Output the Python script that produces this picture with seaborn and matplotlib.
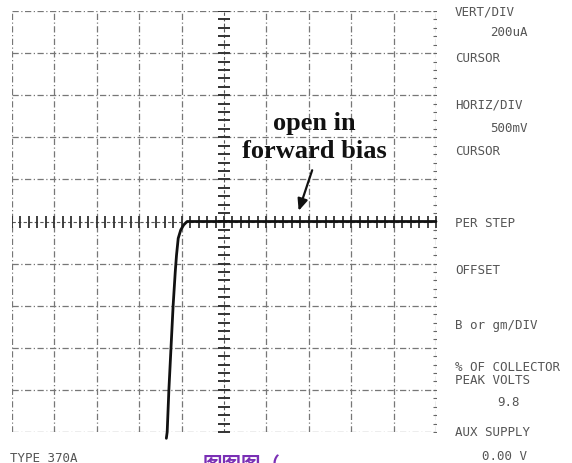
import numpy as np
import pandas as pd
import matplotlib
matplotlib.use("Agg")
import matplotlib.pyplot as plt
import seaborn as sns

# trace, in divisions from the centre
trace_x = [5.0, 2.0, 0.0, -0.5, -0.87, -0.95, -1.02, -1.08, -1.12, -1.15, -1.2, -1.25, -1.3, -1.34, -1.36]
trace_y = [0.0, 0.0, 0.0, 0.0, 0.0, -0.08, -0.2, -0.4, -0.8, -1.2, -2.0, -3.0, -4.0, -5.0, -5.15]

panel_labels = ["VERT/DIV", "CURSOR", "HORIZ/DIV", "CURSOR", "PER STEP", "OFFSET",
                "B or gm/DIV", "% OF COLLECTOR\nPEAK VOLTS", "AUX SUPPLY"]
panel_label_y = [12, 58, 105, 152, 224, 270, 325, 374, 433]
panel_values = ["200uA", "500mV", "9.8", "0.00 V"]
panel_value_x = [490, 490, 497, 482]
panel_value_y = [33, 128, 403, 456]

df = pd.DataFrame({"x": trace_x, "y": trace_y})

sns.set_style("white")
plt.rcParams["font.family"] = ["DejaVu Sans", "Noto Sans CJK SC"]

W, H = 572, 463
fig = plt.figure(figsize=(W / 100, H / 100), dpi=100)
ax = fig.add_axes([12 / W, (H - 432) / H, 424 / W, 421 / H])
ax.set_xlim(-5, 5)
ax.set_ylim(-5, 5)
for s in ax.spines.values():
    s.set_visible(False)
ax.set_xticks([])
ax.set_yticks([])

grid_kw = dict(color="#777777", lw=0.9, ls=(0, (5, 2, 1, 2)), zorder=1)
for v in np.arange(-5, 6):
    if v != 0:
        ax.axvline(v, **grid_kw)
        ax.axhline(v, **grid_kw)

# centre graticule with minor ticks
ax.axhline(0, color="#555555", lw=0.8, ls=(0, (3, 2)), zorder=1)
ax.axvline(0, color="#555555", lw=0.8, ls=(0, (3, 2)), zorder=1)
minor = np.arange(-5, 5.01, 0.2)
ax.plot(minor, np.zeros_like(minor), ls="none", marker="|", ms=8, mew=1.3, color="#333333", zorder=2)
ax.plot(np.zeros_like(minor), minor, ls="none", marker="_", ms=8, mew=1.4, color="#333333", zorder=2)
ax.plot(np.full_like(minor, 5), minor, ls="none", marker="_", ms=4, mew=0.8, color="#666666", zorder=2)

sns.lineplot(data=df, x="x", y="y", sort=False, color="#111111", lw=2.0, ax=ax, zorder=3)
ax.set_xlabel("")
ax.set_ylabel("")
for l in ax.lines[-1:]:
    l.set_clip_on(False)

ax.text(2.12, 2.0, "open in\nforward bias", ha="center", va="center",
        fontfamily="Liberation Serif", fontweight="bold", fontsize=19,
        linespacing=1.3, color="#111111")
ax.annotate("", xy=(1.74, 0.19), xytext=(2.1, 1.28),
            arrowprops=dict(arrowstyle="-|>,head_length=0.7,head_width=0.3",
                            color="#111111", lw=1.6))

mono = dict(fontfamily="DejaVu Sans Mono", fontsize=9, color="#555555", va="center")
for lab, yy in zip(panel_labels, panel_label_y):
    fig.text(455 / W, 1 - yy / H, lab, ha="left", linespacing=0.95, **mono)
for lab, xx, yy in zip(panel_values, panel_value_x, panel_value_y):
    fig.text(xx / W, 1 - yy / H, lab, ha="left", **mono)
fig.text(10 / W, 1 - 458 / H, "TYPE 370A", ha="left", **mono)

fig.text(203 / W, 1 - 456 / H, "图图图（", ha="left", va="top", fontsize=14,
         fontweight="bold", color="#7a2fb5", family=["Noto Sans CJK SC", "DejaVu Sans"])

fig.savefig("out.png", dpi=100, facecolor="white")
